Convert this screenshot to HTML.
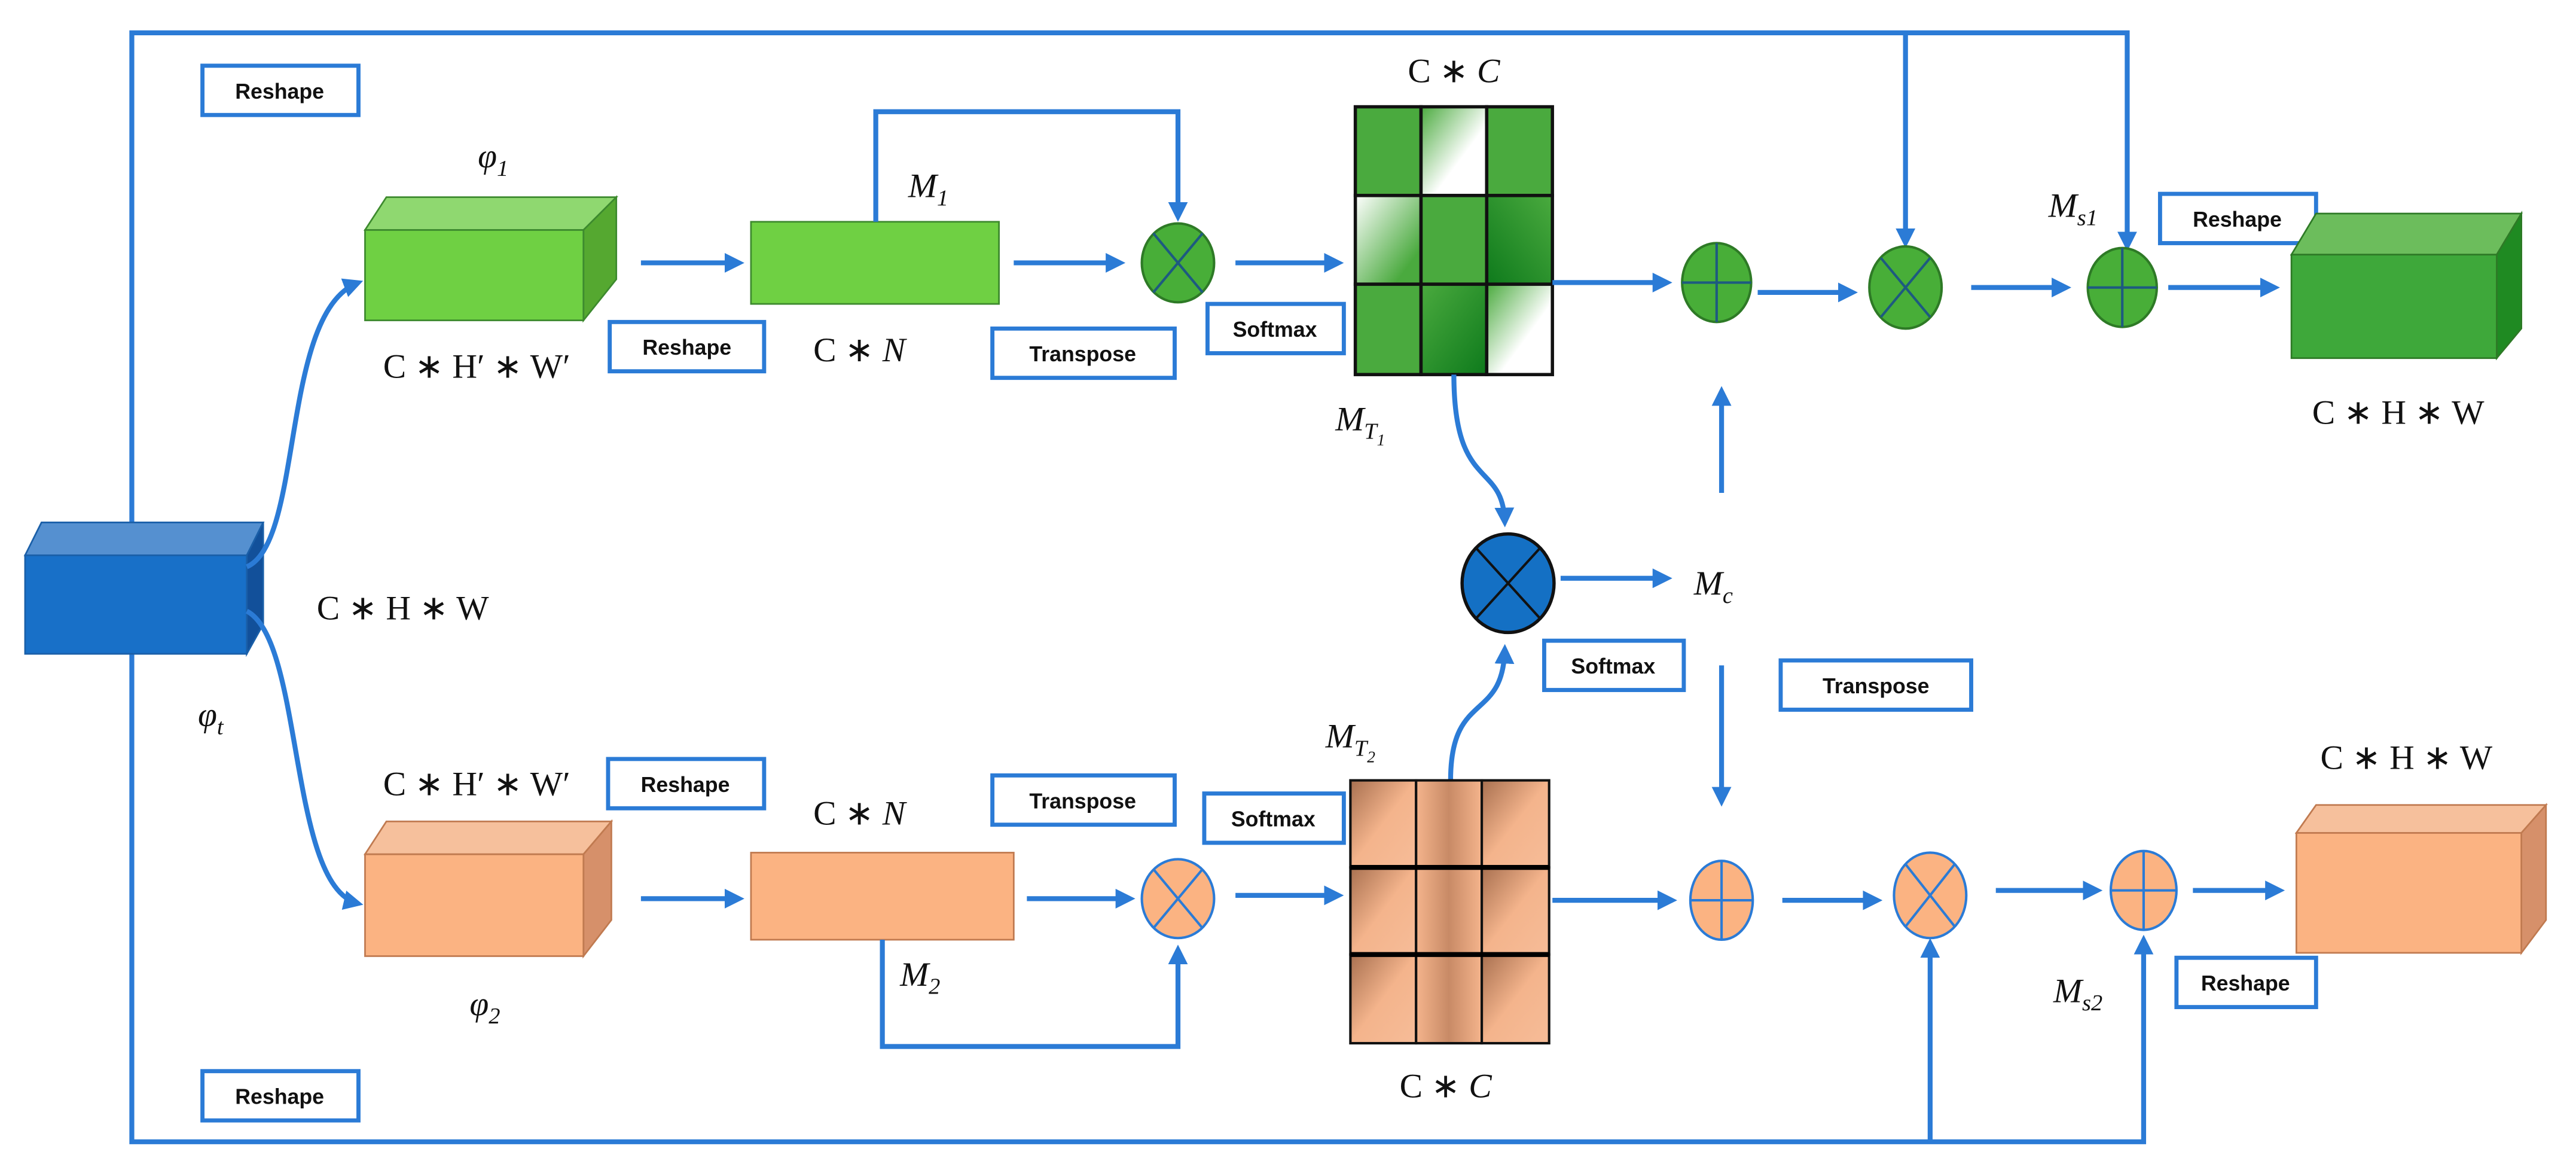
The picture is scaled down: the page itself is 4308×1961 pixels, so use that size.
<!DOCTYPE html>
<html><head><meta charset="utf-8"><style>
html,body{margin:0;padding:0;background:#fff;}
svg{display:block;}
.b{fill:#fff;stroke:#2b7bd6;stroke-width:2.5;}
.bt{font-family:"Liberation Sans",sans-serif;font-weight:bold;font-size:13px;fill:#111;text-anchor:middle;}
.m{font-family:"Liberation Serif",serif;font-size:21px;fill:#111;text-anchor:middle;}
.i{font-style:italic;}
.l{fill:none;stroke:#2b7bd6;stroke-width:3;}
</style></head><body>
<svg width="4308" height="1961" viewBox="0 0 1568 714" xmlns="http://www.w3.org/2000/svg">
<defs>
<marker id="a" markerWidth="4" markerHeight="4" refX="3" refY="2" orient="auto" markerUnits="strokeWidth"><path d="M0,0 L4,2 L0,4 z" fill="#2b7bd6"/></marker>
<linearGradient id="gw" x1="0" y1="0" x2="1" y2="1"><stop offset="0" stop-color="#4aaa3e"/><stop offset="0.6" stop-color="#fff"/></linearGradient>
<linearGradient id="gl" x1="0" y1="0" x2="1" y2="1"><stop offset="0" stop-color="#fff"/><stop offset="0.8" stop-color="#4aaa3e"/></linearGradient>
<linearGradient id="gd" x1="0" y1="0" x2="1" y2="1"><stop offset="0" stop-color="#4aaa3e"/><stop offset="1" stop-color="#0e7a1c"/></linearGradient>
<linearGradient id="gd2" x1="1" y1="0" x2="0" y2="1"><stop offset="0" stop-color="#4aaa3e"/><stop offset="1" stop-color="#0e7a1c"/></linearGradient>
<linearGradient id="p1" x1="0" y1="0" x2="1" y2="0"><stop offset="0" stop-color="#f4b48c"/><stop offset="0.5" stop-color="#c88a66"/><stop offset="1" stop-color="#f4b48c"/></linearGradient>
<linearGradient id="p2" x1="0" y1="0" x2="1" y2="1"><stop offset="0" stop-color="#a87050"/><stop offset="0.5" stop-color="#f4b48c"/><stop offset="1" stop-color="#f6bc98"/></linearGradient>
</defs>

<!-- outer loops -->
<path class="l" d="M80,345 V20 H1295 V150" marker-end="url(#a)"/>
<path class="l" d="M1160,20 V148" marker-end="url(#a)"/>
<path class="l" d="M80,370 V695 H1305 V572" marker-end="url(#a)"/>
<path class="l" d="M1175,695 V574" marker-end="url(#a)"/>

<!-- boxes -->
<rect class="b" x="123" y="40" width="95" height="30"/><text class="bt" x="170" y="60">Reshape</text>
<rect class="b" x="123" y="652" width="95" height="30"/><text class="bt" x="170" y="672">Reshape</text>
<rect class="b" x="371" y="196" width="94" height="30"/><text class="bt" x="418" y="216">Reshape</text>
<rect class="b" x="604" y="200" width="111" height="30"/><text class="bt" x="659" y="220">Transpose</text>
<rect class="b" x="735" y="185" width="83" height="30"/><text class="bt" x="776" y="205">Softmax</text>
<rect class="b" x="1315" y="118" width="95" height="30"/><text class="bt" x="1362" y="138">Reshape</text>
<rect class="b" x="940" y="390" width="85" height="30"/><text class="bt" x="982" y="410">Softmax</text>
<rect class="b" x="1084" y="402" width="116" height="30"/><text class="bt" x="1142" y="422">Transpose</text>
<rect class="b" x="370" y="462" width="95" height="30"/><text class="bt" x="417" y="482">Reshape</text>
<rect class="b" x="604" y="472" width="111" height="30"/><text class="bt" x="659" y="492">Transpose</text>
<rect class="b" x="733" y="483" width="85" height="30"/><text class="bt" x="775" y="503">Softmax</text>
<rect class="b" x="1325" y="583" width="85" height="30"/><text class="bt" x="1367" y="603">Reshape</text>

<!-- blue cube -->
<polygon points="15,338 25,318 160,318 150,338" fill="#5590d0" stroke="#1a5fa8"/>
<polygon points="150,338 160,318 160,380 150,398" fill="#12509a" stroke="#1a5fa8"/>
<rect x="15" y="338" width="135" height="60" fill="#1870c8" stroke="#1a5fa8"/>
<path class="l" d="M150,345 C185,330 170,190 218,172" marker-end="url(#a)"/>
<path class="l" d="M150,372 C185,390 175,540 218,550" marker-end="url(#a)"/>
<text class="m" x="245" y="377">C ∗ H ∗ W</text>
<text class="m i" x="128" y="442">φ<tspan font-size="14" dy="5">t</tspan></text>

<!-- green branch -->
<polygon points="222,140 235,120 375,120 355,140" fill="#8fd870" stroke="#3d8a2e"/>
<polygon points="355,140 375,120 375,170 355,195" fill="#55a830" stroke="#3d8a2e"/>
<rect x="222" y="140" width="133" height="55" fill="#6fd043" stroke="#3d8a2e"/>
<text class="m i" x="300" y="102">φ<tspan font-size="14" dy="5">1</tspan></text>
<text class="m" x="290" y="230">C ∗ H′ ∗ W′</text>
<path class="l" d="M390,160 H450" marker-end="url(#a)"/>
<rect x="457" y="135" width="151" height="50" fill="#6fd043" stroke="#3d8a2e"/>
<text class="m i" x="565" y="120">M<tspan font-size="14" dy="5">1</tspan></text>
<text class="m" x="523" y="220">C ∗ <tspan class="i">N</tspan></text>
<path class="l" d="M533,135 V68 H717 V132" marker-end="url(#a)"/>
<path class="l" d="M617,160 H682" marker-end="url(#a)"/>
<ellipse cx="717" cy="160" rx="22" ry="24" fill="#48ae38" stroke="#2e7a26" stroke-width="1.5"/>
<path d="M702,142 L732,178 M732,142 L702,178" stroke="#1d5a80" stroke-width="1.5"/>
<path class="l" d="M752,160 H815" marker-end="url(#a)"/>
<g stroke="#111" stroke-width="2">
<rect x="825" y="65" width="40" height="54" fill="#4aaa3e"/><rect x="865" y="65" width="40" height="54" fill="url(#gw)"/><rect x="905" y="65" width="40" height="54" fill="#4aaa3e"/>
<rect x="825" y="119" width="40" height="54" fill="url(#gl)"/><rect x="865" y="119" width="40" height="54" fill="#4aaa3e"/><rect x="905" y="119" width="40" height="54" fill="url(#gd2)"/>
<rect x="825" y="173" width="40" height="55" fill="#4aaa3e"/><rect x="865" y="173" width="40" height="55" fill="url(#gd)"/><rect x="905" y="173" width="40" height="55" fill="url(#gw)"/>
</g>
<text class="m" x="885" y="50">C ∗ <tspan class="i">C</tspan></text>
<text class="m i" x="828" y="262">M<tspan font-size="14" dy="5">T</tspan><tspan font-size="10" dy="4">1</tspan></text>
<path class="l" d="M945,172 H1015" marker-end="url(#a)"/>
<ellipse cx="1045" cy="172" rx="21" ry="24" fill="#48ae38" stroke="#2e7a26" stroke-width="1.5"/>
<path d="M1024,172 H1066 M1045,148 V196" stroke="#1d5a80" stroke-width="1.5"/>
<path class="l" d="M1070,178 H1128" marker-end="url(#a)"/>
<ellipse cx="1160" cy="175" rx="22" ry="25" fill="#48ae38" stroke="#2e7a26" stroke-width="1.5"/>
<path d="M1145,157 L1175,193 M1175,157 L1145,193" stroke="#1d5a80" stroke-width="1.5"/>
<path class="l" d="M1200,175 H1258" marker-end="url(#a)"/>
<ellipse cx="1292" cy="175" rx="21" ry="24" fill="#48ae38" stroke="#2e7a26" stroke-width="1.5"/>
<path d="M1271,175 H1313 M1292,151 V199" stroke="#1d5a80" stroke-width="1.5"/>
<text class="m i" x="1262" y="132">M<tspan font-size="14" dy="5">s1</tspan></text>
<path class="l" d="M1320,175 H1385" marker-end="url(#a)"/>
<polygon points="1395,155 1410,130 1535,130 1520,155" fill="#6cbd5c" stroke="#2e7a26"/>
<polygon points="1520,155 1535,130 1535,200 1520,218" fill="#1f8a22" stroke="#2e7a26"/>
<rect x="1395" y="155" width="125" height="63" fill="#3ea83a" stroke="#2e7a26"/>
<text class="m" x="1460" y="258">C ∗ H ∗ W</text>

<!-- middle -->
<path class="l" d="M885,228 C885,300 915,280 916,318" marker-end="url(#a)"/>
<ellipse cx="918" cy="355" rx="28" ry="30" fill="#1470c4" stroke="#111" stroke-width="2"/>
<path d="M898,333 L938,377 M938,333 L898,377" stroke="#111" stroke-width="1.5"/>
<path class="l" d="M883,475 C883,420 915,440 916,395" marker-end="url(#a)"/>
<path class="l" d="M950,352 H1015" marker-end="url(#a)"/>
<text class="m i" x="1043" y="362">M<tspan font-size="14" dy="5">c</tspan></text>
<path class="l" d="M1048,300 V238" marker-end="url(#a)"/>
<path class="l" d="M1048,405 V488" marker-end="url(#a)"/>

<!-- peach branch -->
<text class="m" x="290" y="484">C ∗ H′ ∗ W′</text>
<polygon points="222,520 235,500 372,500 355,520" fill="#f6c09c" stroke="#c07a50"/>
<polygon points="355,520 372,500 372,560 355,582" fill="#d6906a" stroke="#c07a50"/>
<rect x="222" y="520" width="133" height="62" fill="#fbb382" stroke="#c07a50"/>
<text class="m i" x="295" y="618">φ<tspan font-size="14" dy="5">2</tspan></text>
<path class="l" d="M390,547 H450" marker-end="url(#a)"/>
<rect x="457" y="519" width="160" height="53" fill="#fbb382" stroke="#c07a50"/>
<text class="m" x="523" y="502">C ∗ <tspan class="i">N</tspan></text>
<text class="m i" x="560" y="600">M<tspan font-size="14" dy="5">2</tspan></text>
<path class="l" d="M537,572 V637 H717 V578" marker-end="url(#a)"/>
<path class="l" d="M625,547 H688" marker-end="url(#a)"/>
<ellipse cx="717" cy="547" rx="22" ry="24" fill="#fbb382" stroke="#2b7bd6" stroke-width="1.5"/>
<path d="M702,529 L732,565 M732,529 L702,565" stroke="#2b7bd6" stroke-width="1.5"/>
<path class="l" d="M752,545 H815" marker-end="url(#a)"/>
<g stroke="#111" stroke-width="1.5">
<rect x="822" y="475" width="40" height="53" fill="url(#p2)"/><rect x="862" y="475" width="40" height="53" fill="url(#p1)"/><rect x="902" y="475" width="41" height="53" fill="url(#p2)"/>
<rect x="822" y="528" width="40" height="53" fill="url(#p2)"/><rect x="862" y="528" width="40" height="53" fill="url(#p1)"/><rect x="902" y="528" width="41" height="53" fill="url(#p2)"/>
<rect x="822" y="581" width="40" height="54" fill="url(#p2)"/><rect x="862" y="581" width="40" height="54" fill="url(#p1)"/><rect x="902" y="581" width="41" height="54" fill="url(#p2)"/>
</g>
<path d="M822,528 H943 M822,581 H943" stroke="#000" stroke-width="3"/>
<text class="m i" x="822" y="455">M<tspan font-size="14" dy="5">T</tspan><tspan font-size="10" dy="4">2</tspan></text>
<text class="m" x="880" y="668">C ∗ <tspan class="i">C</tspan></text>
<path class="l" d="M945,548 H1018" marker-end="url(#a)"/>
<ellipse cx="1048" cy="548" rx="19" ry="24" fill="#fbb382" stroke="#2b7bd6" stroke-width="1.5"/>
<path d="M1029,548 H1067 M1048,524 V572" stroke="#2b7bd6" stroke-width="1.5"/>
<path class="l" d="M1085,548 H1143" marker-end="url(#a)"/>
<ellipse cx="1175" cy="545" rx="22" ry="26" fill="#fbb382" stroke="#2b7bd6" stroke-width="1.5"/>
<path d="M1160,526 L1190,564 M1190,526 L1160,564" stroke="#2b7bd6" stroke-width="1.5"/>
<path class="l" d="M1215,542 H1277" marker-end="url(#a)"/>
<ellipse cx="1305" cy="542" rx="20" ry="24" fill="#fbb382" stroke="#2b7bd6" stroke-width="1.5"/>
<path d="M1285,542 H1325 M1305,518 V566" stroke="#2b7bd6" stroke-width="1.5"/>
<text class="m i" x="1265" y="610">M<tspan font-size="14" dy="5">s2</tspan></text>
<path class="l" d="M1335,542 H1388" marker-end="url(#a)"/>
<polygon points="1398,507 1410,490 1550,490 1535,507" fill="#f6c09c" stroke="#c07a50"/>
<polygon points="1535,507 1550,490 1550,560 1535,580" fill="#d6906a" stroke="#c07a50"/>
<rect x="1398" y="507" width="137" height="73" fill="#fbb382" stroke="#c07a50"/>
<text class="m" x="1465" y="468">C ∗ H ∗ W</text>
</svg>
</body></html>
